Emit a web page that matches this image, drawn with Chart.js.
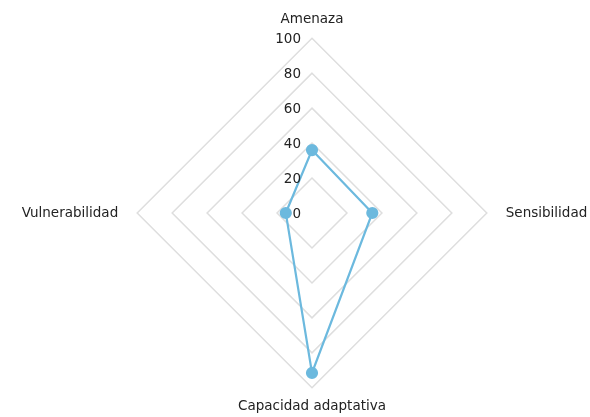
<!DOCTYPE html>
<html>
<head>
<meta charset="utf-8">
<script src="https://cdn.jsdelivr.net/npm/chart.js@4"></script>
<style>
  html, body { margin: 0; padding: 0; background: #fff; overflow: hidden; }
  #wrap { position: relative; width: 590px; height: 417px; overflow: hidden; }
  #chart { position: absolute; left: -18px; top: 0; }
</style>
</head>
<body>
<div id="wrap"><canvas id="chart" width="660" height="417"></canvas></div>
<script>
const categories = ['Amenaza', 'Sensibilidad', 'Capacidad adaptativa', 'Vulnerabilidad'];
const values = [36, 34.5, 91.5, 15];
const tickValues = [0, 20, 40, 60, 80, 100];

const lineColor = '#6cb9de';
const fontFamily = '"DejaVu Sans", Verdana, sans-serif';
const fontSize = 13.5;

// tick labels sit left of the axis, no backdrop
const tickLabels = {
  id: 'tickLabels',
  afterDatasetsDraw(chart) {
    const r = chart.scales.r;
    const ctx = chart.ctx;
    ctx.save();
    ctx.font = fontSize + 'px ' + fontFamily;
    ctx.fillStyle = '#222';
    ctx.textAlign = 'right';
    ctx.textBaseline = 'middle';
    for (const v of tickValues) {
      const d = r.getDistanceFromCenterForValue(v);
      ctx.fillText(String(v), r.xCenter - 11, r.yCenter - d + 1);
    }
    ctx.restore();
  }
};

new Chart(document.getElementById('chart').getContext('2d'), {
  type: 'radar',
  data: {
    labels: categories,
    datasets: [{
      data: values,
      borderColor: lineColor,
      backgroundColor: lineColor,
      pointBackgroundColor: lineColor,
      pointBorderColor: lineColor,
      borderWidth: 2.2,
      pointRadius: 5,
      fill: false
    }]
  },
  options: {
    responsive: false,
    animation: false,
    layout: { padding: { top: 11, bottom: 1, left: 0, right: 0 } },
    plugins: { legend: { display: false }, tooltip: { enabled: false } },
    scales: {
      r: {
        min: 0,
        max: 100,
        ticks: { stepSize: 20, display: false },
        angleLines: { display: false },
        grid: { color: '#dedede', lineWidth: 1.5 },
        pointLabels: {
          color: '#222',
          font: { family: fontFamily, size: fontSize },
          padding: ctx => (ctx.index % 2 === 0 ? 11 : 19)
        }
      }
    }
  },
  plugins: [tickLabels]
});
</script>
</body>
</html>
